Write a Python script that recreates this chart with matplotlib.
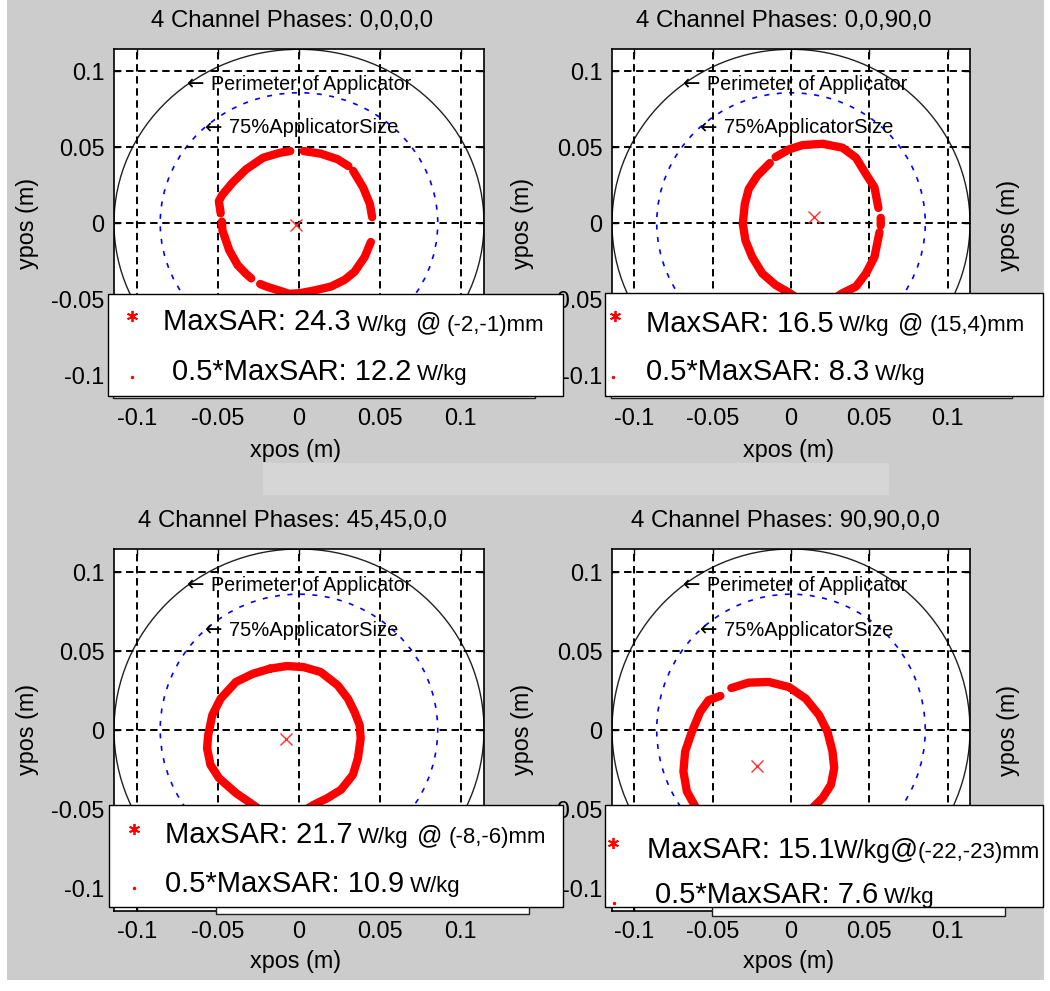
import numpy as np
import matplotlib.pyplot as plt
from matplotlib.patches import Circle, Rectangle

plt.rcParams['font.family'] = ['Liberation Sans', 'DejaVu Sans']
plt.rcParams['axes.unicode_minus'] = False

W, H = 1050, 991

titles = ["4 Channel Phases: 0,0,0,0", "4 Channel Phases: 0,0,90,0",
          "4 Channel Phases: 45,45,0,0", "4 Channel Phases: 90,90,0,0"]
max_sar = [24.3, 16.5, 21.7, 15.1]
half_sar = [12.2, 8.3, 10.9, 7.6]
max_x_mm = [-2, 15, -8, -22]
max_y_mm = [-1, 4, -6, -23]
applicator_r = 0.1143
inner_frac = 0.75
ticks = [-0.1, -0.05, 0, 0.05, 0.1]
tick_labels = ["-0.1", "-0.05", "0", "0.05", "0.1"]

nan = np.nan
# 0.5*MaxSAR contour points (mm), nan = gap
c1_x = [-48.4, -49.5, -47.5, -41, -32.7, -22.2, -11.7, -5.4, nan,
        2.9, 13.4, 23.9, 30.5, nan,
        33.5, 39.6, 43.8, 45.2, nan,
        44.4, 40.6, 34.3, 28, 19.7, 9.2, 0.8, -6, -11.7, -20.1, -24, nan,
        -29.5, -33, -37.9, -43.1, -47.3, -47.6]
c1_y = [6.5, 14.5, 18.5, 26.7, 35.4, 43, 46.3, 47.4, nan,
        47.4, 45.7, 42, 37.5, nan,
        34.3, 23.5, 12.6, 3.9, nan,
        -12.4, -22.2, -32, -37.4, -41.7, -44.3, -46, -46.5, -44.5, -41.7, -40, nan,
        -36.3, -33, -27.6, -17.8, -4.8, 1]
c2_x = [-13.5, -21.6, -27, -29.5, -30.8, -29.1, -24.8, -18.4, -9.8, -1.3, 2,
        nan, 30, 32.9, 41.5, 47.9, 53.3, 56.5, nan,
        57.3, 57.3, nan,
        55.8, 53.3, 47.9, 41.5, 32.9, 20.1, 7.3, -1.3, -9.8]
c2_y = [39.5, 31.1, 22.4, 12.6, -0.4, -11.3, -22.2, -33, -40.7, -45.7, -48,
        nan, -48, -46, -41.7, -33, -22.2, -6, nan,
        3.5, -1.5, nan,
        10, 23.5, 32.2, 43, 49.6, 52.2, 51.3, 48.5, 43.5]
c3_x = [-18, -7.5, 2.9, 13.4, 23.9, 30.2, 34.3, 37.5, 38.1, 36.4, 33.3, 26, 17.6, 9.2, 5, nan,
        -25, -28.5, -39, -49.4, -54.7, -56.8, -56.1, -53.6, -48.4, -39, -28.5, -18]
c3_y = [38.6, 40.3, 39.6, 36.5, 28.1, 19.7, 11.3, 2.9, -5.5, -18, -28.5, -37.9, -43.2, -47.4, -50, nan,
        -50, -47.4, -40, -30.6, -22.2, -11.7, -3.4, 9.2, 19.7, 30.2, 35.4, 38.6]
c4_x = [-38.1, -27, -14.1, -1.3, 9.4, 18, 23.3, 26.5, 27.6, 25.5, 20.1, 14.8, 10, nan,
        -58, -61.2, -66.5, -68.7, -67.6, -63.3, -58, -52.6, -45.1]
c4_y = [26.4, 29.8, 30.2, 27, 19.7, 9.2, -1.3, -13.8, -24.3, -34.8, -43.2, -48.4, -53, nan,
        -55, -48.4, -39, -26.4, -13.8, -1.3, 11.3, 18.7, 21.4]
cont_x = [c1_x, c2_x, c3_x, c4_x]
cont_y = [c1_y, c2_y, c3_y, c4_y]

# axes boxes in pixels: left, top, right, bottom
boxes = [(114, 49.3, 484, 397), (612, 49.3, 970, 397),
         (114, 549, 484, 910.5), (612, 549, 970, 910.5)]
title_px = [(292, 20.7), (784, 20.7), (292.5, 520.7), (785, 520.7)]
xlabel_px = [(296, 451), (788.6, 451), (296, 961.7), (788.6, 961.7)]
ylabel_x = [28, 522, 28, 522]

fig = plt.figure(figsize=(10.5, 9.91), dpi=100, facecolor='#cccccc')

axes = []
for i in range(4):
    l, t, r, b = boxes[i]
    ax = fig.add_axes([l / W, 1 - b / H, (r - l) / W, (b - t) / H])
    axes.append(ax)
    bw, bh = r - l, b - t
    ax.set_xlim(-applicator_r, applicator_r)
    ax.set_ylim(-applicator_r, applicator_r)
    ax.set_xticks(ticks)
    ax.set_xticklabels(tick_labels)
    ax.set_yticks(ticks)
    ax.set_yticklabels(tick_labels)
    ax.grid(True, color='black', lw=1.4, ls=(0, (3.8, 2.4)))
    ax.tick_params(direction='in', top=True, right=True, length=4, width=1,
                   labelsize=16.8, pad=7)
    for s in ax.spines.values():
        s.set_linewidth(1.2)

    ax.add_patch(Circle((0, 0), applicator_r, fill=False, ec='#202020', lw=1.0))
    ax.add_patch(Circle((0, 0), applicator_r * inner_frac, fill=False, ec='blue',
                        lw=1.2, ls=(0, (3, 4.5))))
    ax.plot(np.array(cont_x[i]) / 1000, np.array(cont_y[i]) / 1000, color='red',
            lw=6, solid_capstyle='round')
    ax.plot(max_x_mm[i] / 1000, max_y_mm[i] / 1000, 'x', color='#ff3030', ms=8, mew=1)

    # "<- label" notes, arrow in DejaVu (wider glyph)
    for (nx, ny), note, fs in [((-0.069, 0.0913), 'Perimeter of Applicator', 14.2),
                               ((-0.058, 0.0626), '75%ApplicatorSize', 14.5)]:
        ax.text(nx, ny, '\u2190', fontsize=15, va='center', family='DejaVu Sans')
        ax.annotate(note, xy=(nx, ny), xytext=(17.3, 0), textcoords='offset points',
                    fontsize=fs, va='center', ha='left')

    tx, ty = title_px[i]
    ax.set_title(titles[i], fontsize=17.3, x=(tx - l) / bw, y=(b - ty) / bh,
                 va='center', pad=0)
    ax.set_xlabel('xpos (m)', fontsize=16.8)
    ax.xaxis.set_label_coords((xlabel_px[i][0] - l) / bw, (b - xlabel_px[i][1]) / bh)
    ax.xaxis.label.set_va('center')
    ax.set_ylabel('ypos (m)', fontsize=16.8)
    ax.yaxis.set_label_coords((ylabel_x[i] - l) / bw, 0.5)
    ax.yaxis.label.set_va('center')

# overlay in pixel coordinates for legends and page bits
ov = fig.add_axes([0, 0, 1, 1], zorder=10)
ov.set_xlim(0, W)
ov.set_ylim(H, 0)
ov.axis('off')

ov.add_patch(Rectangle((0, 0), 7, H, fc='white', ec='none'))
ov.add_patch(Rectangle((1044, 0), 6, H, fc='white', ec='none'))
ov.add_patch(Rectangle((0, 980), W, 11, fc='white', ec='none'))
ov.add_patch(Rectangle((263, 463), 626, 32, fc='#d6d6d6', ec='none'))
for yy in (225, 730):
    ov.text(1009, yy, 'ypos (m)', rotation=90, ha='center', va='center', fontsize=16.8)

fig.canvas.draw()
rend = fig.canvas.get_renderer()


def put_runs(x, y, runs, clip=None):
    for s, fs, gap in runs:
        x += gap
        t = ov.text(x, y, s, fontsize=fs, va='baseline', ha='left', zorder=4)
        if clip is not None:
            t.set_clip_path(clip)
        x += t.get_window_extent(renderer=rend).width


legend_boxes = [(108, 294, 563, 395.5), (605, 293, 1043, 396),
                (109, 805, 563, 907.3), (605, 805, 1043, 906.7)]
ghosts = [(113, 380, 535, 398), (611, 380, 1012, 398),
          (216, 895, 529, 914), (712, 895, 1005, 916)]
star_px = [(131.7, 316), (614.6, 316), (133.5, 829), (613.3, 843)]
dot_px = [(131.7, 377), (613, 377), (133.5, 888), (614, 903)]
line1_x = [163.3, 645.7, 164.6, 646.7]
line2_x = [172, 645.7, 164.6, 655]
base1 = [330.5, 331.5, 843, 858]
base2 = [380, 380, 892, 903]

for i in range(4):
    l, t, r, b = ghosts[i]
    ov.add_patch(Rectangle((l, t), r - l, b - t, fc='white', ec='#202020', lw=1, zorder=1))
    l, t, r, b = legend_boxes[i]
    box = Rectangle((l, t), r - l, b - t, fc='white', ec='black', lw=1, zorder=2)
    ov.add_patch(box)
    ov.plot(*star_px[i], marker=(6, 2, 0), color='red', ms=8, mew=1.3, zorder=4)
    ov.plot(*dot_px[i], 'o', color='red', ms=2.5, mew=0, zorder=4)
    if i < 3:
        run1 = [("MaxSAR: %.1f" % max_sar[i], 21, 0), ("W/kg", 16, 6),
                ("@", 18, 8), ("(%d,%d)mm" % (max_x_mm[i], max_y_mm[i]), 16, 6)]
    else:
        run1 = [("MaxSAR: %.1f" % max_sar[i], 21, 0), ("W/kg", 18, 0),
                ("@", 20, -1), ("(%d,%d)mm" % (max_x_mm[i], max_y_mm[i]), 16, -1)]
    run2 = [("0.5*MaxSAR: %.1f" % half_sar[i], 21, 0), ("W/kg", 16, 6)]
    put_runs(line1_x[i], base1[i], run1)
    put_runs(line2_x[i], base2[i], run2, clip=box)

fig.savefig('out.png', dpi=100, facecolor=fig.get_facecolor())
